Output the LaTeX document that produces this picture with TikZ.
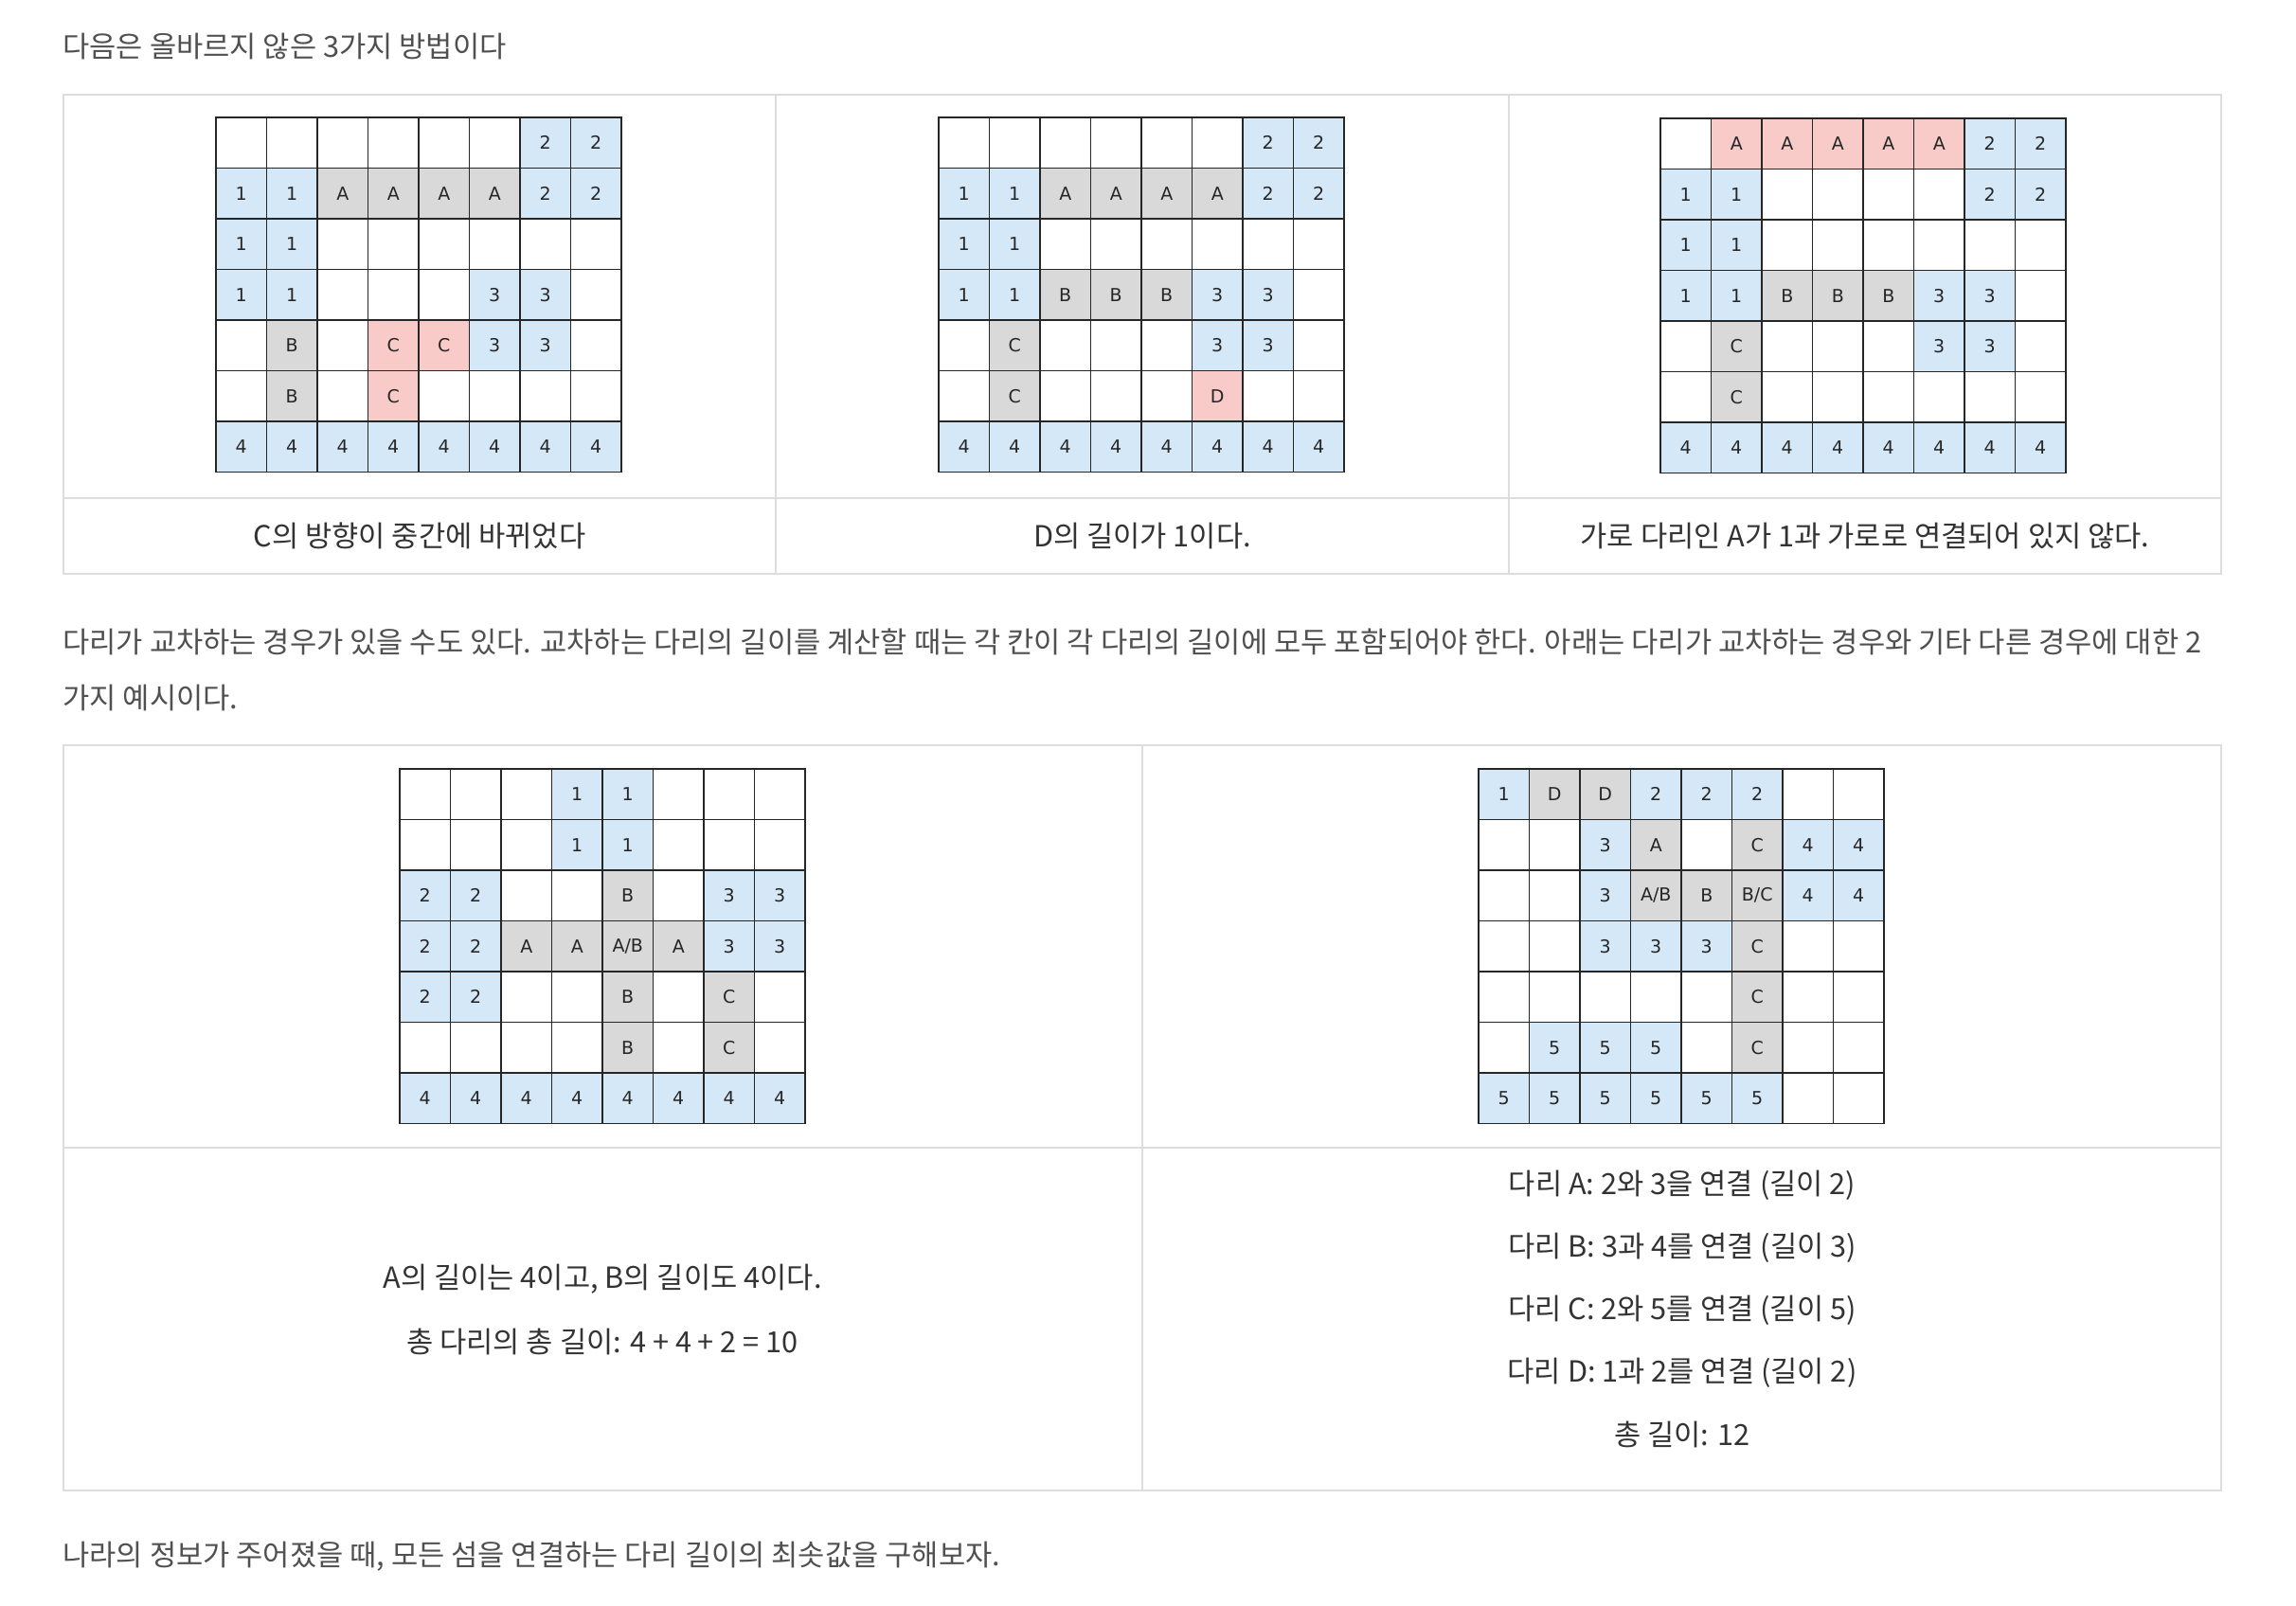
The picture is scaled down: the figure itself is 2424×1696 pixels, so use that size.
\documentclass[tikz,border=0pt]{standalone}
\usepackage{fontspec}
\setmainfont{Noto Sans CJK KR}
\newfontfamily\cellfont{DejaVu Sans}
\definecolor{cb}{HTML}{D5E8F8}
\definecolor{cg}{HTML}{D9D9D9}
\definecolor{cp}{HTML}{F8CBC8}
\definecolor{cw}{HTML}{FFFFFF}
\definecolor{tline}{HTML}{DDDDDD}
\definecolor{txtA}{HTML}{505050}
\definecolor{txtB}{HTML}{333333}
\newcommand\AB{A/B}
\newcommand\BC{B/C}
\tikzset{
  cell/.style={draw=black!85, line width=0.85pt, minimum size=26.75pt, inner sep=0pt,
    font=\cellfont\fontsize{9.5}{11}\selectfont, text=black!85},
  para/.style={anchor=west, inner sep=0pt, text=txtA, font=\fontsize{15.35}{18}\selectfont},
  captxt/.style={inner sep=0pt, text=txtB, font=\fontsize{15.35}{18}\selectfont},
  tbl/.style={draw=tline, line width=1.1pt},
}
\newcommand\mkgrid[4]{%
  \foreach \rowspec [count=\r from 0] in {#4}{%
    \foreach \ty/\tx [count=\c from 0] in \rowspec{%
      \node[cell, fill=c\ty] (#1-\r-\c) at ({#2+(\c+0.5)*53.5},{#3+(\r+0.5)*53.5}) {\tx};
    }
  }
}
\begin{document}
\begin{tikzpicture}[x=0.5pt, y=-0.5pt]
\fill[white] (0,0) rectangle (2424,1696);
\useasboundingbox (0,0) rectangle (2424,1696);

% title
\node[para] (title) at (66,49) {다음은 올바르지 않은 3가지 방법이다};

% table 1
\draw[tbl] (67,100) rectangle (2345,606);
\draw[tbl] (67,526) -- (2345,526);
\draw[tbl] (819,100) -- (819,606);
\draw[tbl] (1593,100) -- (1593,606);

\mkgrid{ga}{228}{124}{
 {w/,w/,w/,w/,w/,w/,b/2,b/2},
 {b/1,b/1,g/A,g/A,g/A,g/A,b/2,b/2},
 {b/1,b/1,w/,w/,w/,w/,w/,w/},
 {b/1,b/1,w/,w/,w/,b/3,b/3,w/},
 {w/,g/B,w/,p/C,p/C,b/3,b/3,w/},
 {w/,g/B,w/,p/C,w/,w/,w/,w/},
 {b/4,b/4,b/4,b/4,b/4,b/4,b/4,b/4}}

\mkgrid{gb}{991}{124}{
 {w/,w/,w/,w/,w/,w/,b/2,b/2},
 {b/1,b/1,g/A,g/A,g/A,g/A,b/2,b/2},
 {b/1,b/1,w/,w/,w/,w/,w/,w/},
 {b/1,b/1,g/B,g/B,g/B,b/3,b/3,w/},
 {w/,g/C,w/,w/,w/,b/3,b/3,w/},
 {w/,g/C,w/,w/,w/,p/D,w/,w/},
 {b/4,b/4,b/4,b/4,b/4,b/4,b/4,b/4}}

\mkgrid{gc}{1753}{125}{
 {w/,p/A,p/A,p/A,p/A,p/A,b/2,b/2},
 {b/1,b/1,w/,w/,w/,w/,b/2,b/2},
 {b/1,b/1,w/,w/,w/,w/,w/,w/},
 {b/1,b/1,g/B,g/B,g/B,b/3,b/3,w/},
 {w/,g/C,w/,w/,w/,b/3,b/3,w/},
 {w/,g/C,w/,w/,w/,w/,w/,w/},
 {b/4,b/4,b/4,b/4,b/4,b/4,b/4,b/4}}

\node[captxt] (cap1) at (443,566) {C의 방향이 중간에 바뀌었다};
\node[captxt] (cap2) at (1206,566) {D의 길이가 1이다.};
\node[captxt] (cap3) at (1969,566) {가로 다리인 A가 1과 가로로 연결되어 있지 않다.};

% paragraph
\node[para] (p1) at (66,678) {다리가 교차하는 경우가 있을 수도 있다. 교차하는 다리의 길이를 계산할 때는 각 칸이 각 다리의 길이에 모두 포함되어야 한다. 아래는 다리가 교차하는 경우와 기타 다른 경우에 대한 2};
\node[para] (p2) at (66,737) {가지 예시이다.};

% table 2
\draw[tbl] (67,787) rectangle (2345,1574);
\draw[tbl] (67,1212) -- (2345,1212);
\draw[tbl] (1206,787) -- (1206,1574);

\mkgrid{gd}{422}{812}{
 {w/,w/,w/,b/1,b/1,w/,w/,w/},
 {w/,w/,w/,b/1,b/1,w/,w/,w/},
 {b/2,b/2,w/,w/,g/B,w/,b/3,b/3},
 {b/2,b/2,g/A,g/A,g/\AB,g/A,b/3,b/3},
 {b/2,b/2,w/,w/,g/B,w/,g/C,w/},
 {w/,w/,w/,w/,g/B,w/,g/C,w/},
 {b/4,b/4,b/4,b/4,b/4,b/4,b/4,b/4}}

\mkgrid{ge}{1561}{812}{
 {b/1,g/D,g/D,b/2,b/2,b/2,w/,w/},
 {w/,w/,b/3,g/A,w/,g/C,b/4,b/4},
 {w/,w/,b/3,g/\AB,g/B,g/\BC,b/4,b/4},
 {w/,w/,b/3,b/3,b/3,g/C,w/,w/},
 {w/,w/,w/,w/,w/,g/C,w/,w/},
 {w/,b/5,b/5,b/5,w/,g/C,w/,w/},
 {b/5,b/5,b/5,b/5,b/5,b/5,w/,w/}}

\node[captxt] (l1) at (636,1351) {A의 길이는 4이고, B의 길이도 4이다.};
\node[captxt] (l2) at (636,1417) {총 다리의 총 길이: 4 + 4 + 2 = 10};

\node[captxt] (r1) at (1776,1252) {다리 A: 2와 3을 연결 (길이 2)};
\node[captxt] (r2) at (1776,1318) {다리 B: 3과 4를 연결 (길이 3)};
\node[captxt] (r3) at (1776,1384) {다리 C: 2와 5를 연결 (길이 5)};
\node[captxt] (r4) at (1776,1450) {다리 D: 1과 2를 연결 (길이 2)};
\node[captxt] (r5) at (1776,1515) {총 길이: 12};

\node[para] (last) at (66,1644) {나라의 정보가 주어졌을 때, 모든 섬을 연결하는 다리 길이의 최솟값을 구해보자.};
\end{tikzpicture}
\end{document}
